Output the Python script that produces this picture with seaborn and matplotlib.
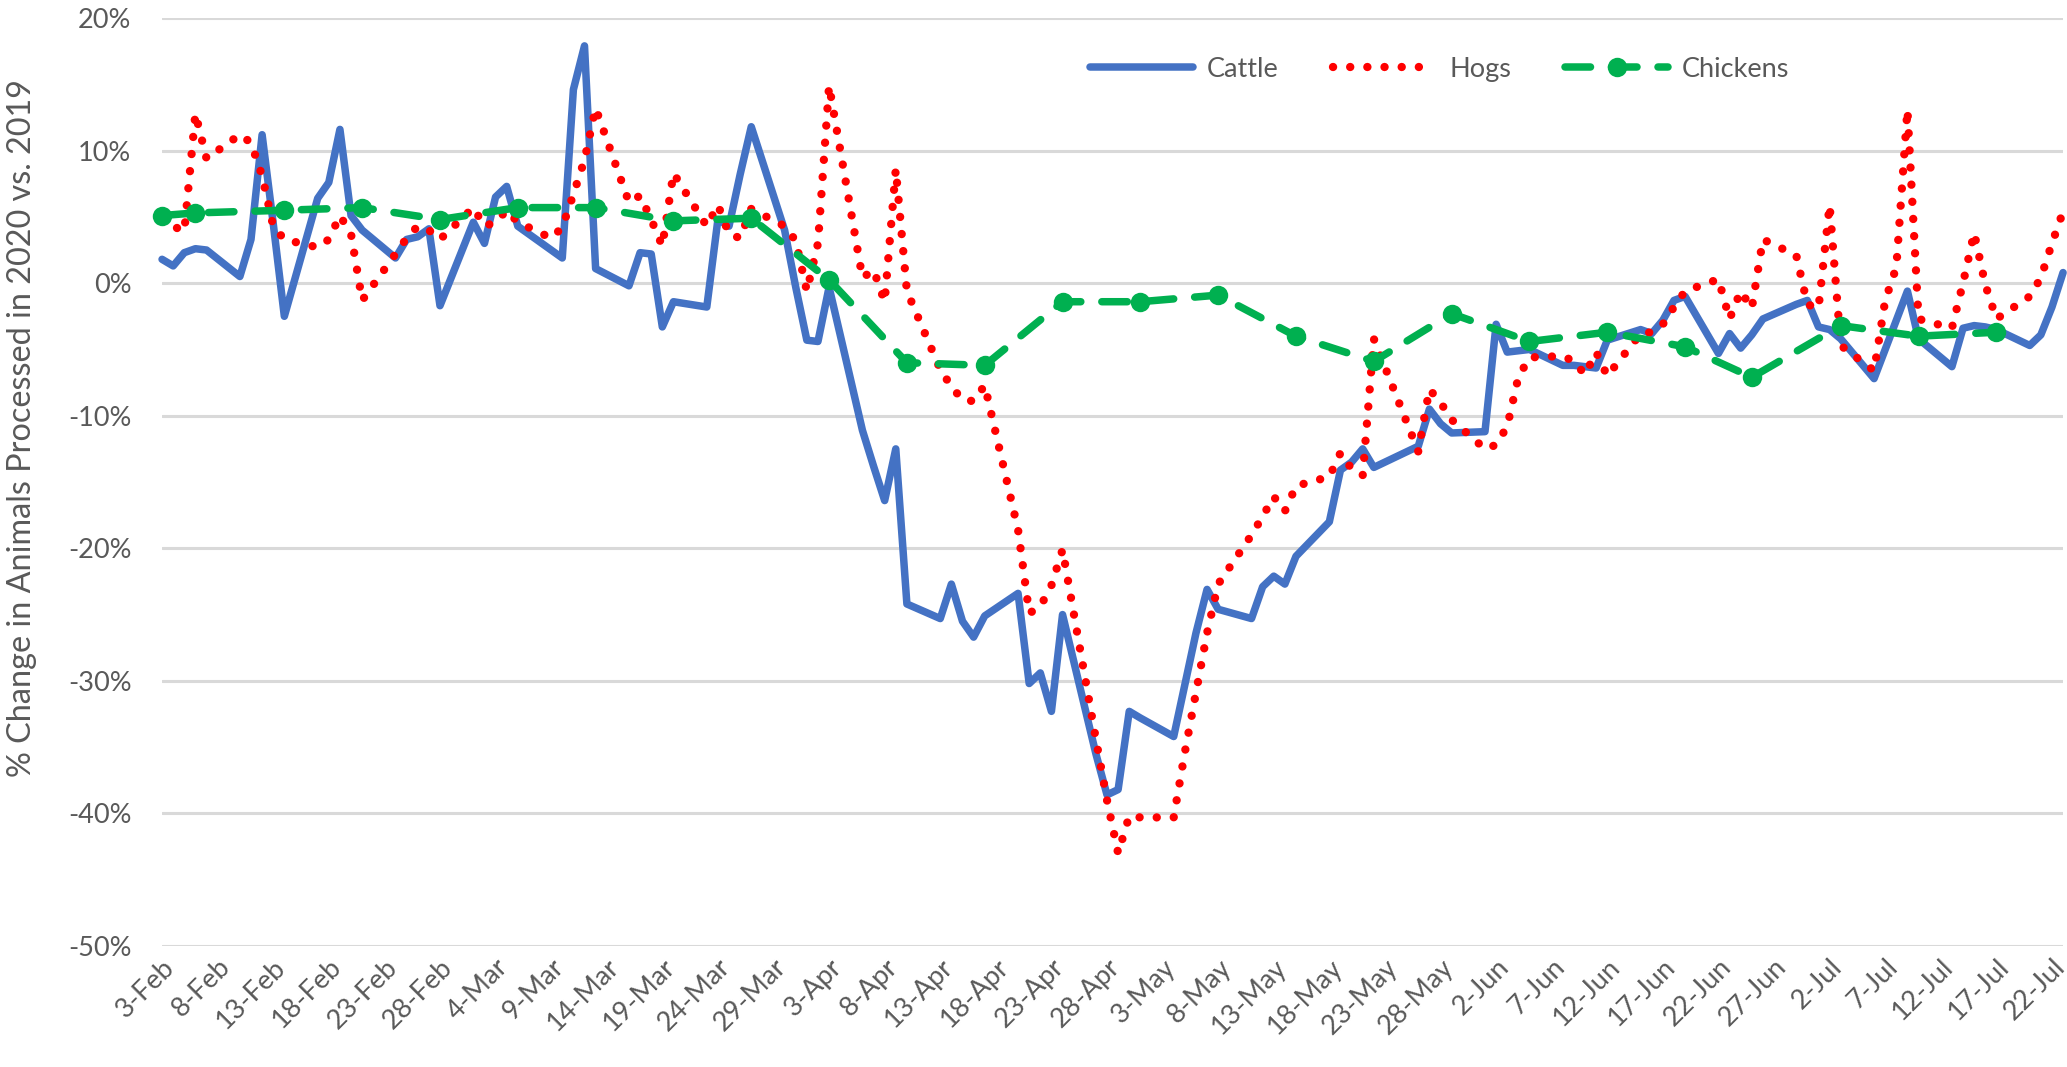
import numpy as np
import pandas as pd
import matplotlib
matplotlib.use("Agg")
import matplotlib.pyplot as plt
import matplotlib.dates as mdates
from matplotlib.lines import Line2D
import seaborn as sns

# ---------------- data ----------------
START = "2020-02-03"
END = "2020-07-23"
HOLIDAYS = ["2020-05-25"]          # no processing reported (Memorial Day)

# % change vs 2019, one value per weekday (Mon..Fri), weeks starting 3-Feb
cattle = [
    1.8, 1.3, 2.3, 2.6, 2.5,
    0.5, 3.3, 11.2, 4.5, -2.5,
    6.4, 7.6, 11.6, 5.1, 4.0,
    1.9, 3.3, 3.5, 4.1, -1.7,
    4.6, 3.0, 6.5, 7.3, 4.3,
    2.5, 1.9, 14.6, 17.9, 1.1,
    -0.2, 2.3, 2.2, -3.3, -1.4,
    -1.8, 4.8, 4.3, 8.2, 11.8,
    4.0, -0.3, -4.3, -4.4, -0.3,
    -11.1, -13.8, -16.4, -12.5, -24.2,
    -25.3, -22.7, -25.5, -26.7, -25.1,
    -23.4, -30.2, -29.4, -32.3, -25.0,
    -35.5, -38.6, -38.2, -32.3, -32.8,
    -34.2, -30.3, -26.4, -23.1, -24.6,
    -25.3, -22.9, -22.1, -22.7, -20.6,
    -18.0, -14.1, -13.5, -12.5, -13.9,
    -12.3, -9.5, -10.6, -11.3,
    -11.2, -3.1, -5.2, -5.1, -5.0,
    -6.2, -6.2, -6.3, -6.4, -4.3,
    -3.5, -3.8, -2.8, -1.3, -1.0,
    -5.3, -3.8, -4.9, -3.9, -2.7,
    -1.6, -1.3, -3.3, -3.5, -4.2,
    -7.2, -5.0, -2.8, -0.6, -4.2,
    -6.3, -3.4, -3.2, -3.3, -3.5,
    -4.7, -3.9, -1.8, 0.8,
]

hogs = [
    4.8, 4.3, 3.9, 12.8, 9.4,
    11.2, 10.6, 8.1, 4.3, 3.3,
    2.7, 3.3, 5.1, 3.7, -1.3,
    2.2, 3.4, 4.3, 4.0, 3.3,
    5.7, 4.3, 4.6, 5.5, 4.6,
    3.4, 4.2, 6.7, 9.3, 13.2,
    6.1, 6.6, 4.8, 2.8, 8.3,
    4.3, 5.9, 3.7, 3.4, 5.6,
    4.3, 3.2, -0.6, 3.0, 14.9,
    0.4, 1.0, -1.4, 8.6, -0.6,
    -6.5, -7.8, -8.8, -8.9, -7.7,
    -18.6, -24.9, -24.4, -22.8, -20.1,
    -34.4, -39.0, -43.0, -40.2, -40.3,
    -40.3, -35.4, -30.9, -26.4, -22.7,
    -19.0, -17.6, -16.1, -17.2, -15.3,
    -14.6, -12.8, -14.0, -14.5, -4.2,
    -12.7, -8.0, -9.0, -10.3,
    -12.5, -12.2, -10.8, -7.1, -5.6,
    -5.5, -5.9, -6.9, -5.2, -7.0,
    -3.8, -3.7, -3.1, -1.8, -0.6,
    0.3, -2.7, -0.6, -1.9, 3.3,
    2.1, -1.6, -1.9, 5.9, -4.7,
    -6.6, -1.3, 1.2, 13.1, -2.7,
    -3.4, 0.0, 3.8, -0.1, -2.7,
    -1.0, 0.4, 3.0, 5.4,
]

# weekly chicken figures: days after 3-Feb and % change
chicken_offsets = [0, 3, 11, 18, 25, 32, 39, 46, 53, 60, 67, 74, 81, 88, 95,
                   102, 109, 116, 123, 130, 137, 143, 151, 158, 165]
chickens = [5.1, 5.3, 5.5, 5.7, 4.8, 5.7, 5.7, 4.7, 4.9, 0.25, -6.0, -6.2,
            -1.4, -1.4, -0.9, -4.0, -5.9, -2.3, -4.4, -3.7, -4.8, -7.1,
            -3.2, -4.0, -3.7]

TICK_FIRST, TICK_LAST = "2020-02-03", "2020-07-22"
y_ticks = [20, 10, 0, -10, -20, -30, -40, -50]
y_title = "% Change in Animals Processed in 2020 vs. 2019"
series_names = ["Cattle", "Hogs", "Chickens"]

# ---------------- tables ----------------
days = pd.bdate_range(START, END)
days = days[~days.isin(pd.to_datetime(HOLIDAYS))]
daily = pd.DataFrame({"date": days, "Cattle": cattle, "Hogs": hogs})
weekly = pd.DataFrame({
    "date": pd.Timestamp(START) + pd.to_timedelta(chicken_offsets, unit="D"),
    "Chickens": chickens,
})

# ---------------- style ----------------
sns.set_theme(style="white")
plt.rcParams["font.family"] = ["Lato", "DejaVu Sans"]

BLUE, RED, GREEN = "#4472C4", "#FF0000", "#00B050"
GRID, TEXT = "#D9D9D9", "#595959"
LW_C, LW_H, LW_K = 5.4, 6.0, 5.4
HOG_DOTS = (0, (0.01, 2.05))
CHICK_DASH = (0, (3.4, 2.8))
MS = 14

fig = plt.figure(figsize=(20.67, 10.67), dpi=100)
ax = fig.add_axes([0.0784, 0.1134, 0.9197, 0.8697])

sns.lineplot(data=daily, x="date", y="Cattle", ax=ax, color=BLUE, lw=LW_C,
             estimator=None, sort=False, clip_on=False, solid_joinstyle="round",
             legend=False, zorder=3)
sns.lineplot(data=daily, x="date", y="Hogs", ax=ax, color=RED, lw=LW_H,
             estimator=None, sort=False, clip_on=False, legend=False, zorder=4)
sns.lineplot(data=weekly, x="date", y="Chickens", ax=ax, color=GREEN, lw=LW_K,
             marker="o", markersize=MS, markeredgewidth=0,
             estimator=None, sort=False, clip_on=False, legend=False, zorder=5)

cattle_line, hog_line, chicken_line = ax.lines[-3:]
hog_line.set_linestyle(HOG_DOTS)
hog_line.set_dash_capstyle("round")
chicken_line.set_linestyle(CHICK_DASH)
chicken_line.set_dash_capstyle("round")

# axes
ax.set_ylim(-50, 20)
ax.set_yticks(y_ticks)
ax.set_yticklabels([f"{v:d}%" for v in y_ticks])
ax.set_xlim(mdates.date2num(pd.Timestamp(START)), mdates.date2num(pd.Timestamp(END)))
ticks = pd.date_range(TICK_FIRST, TICK_LAST, freq="5D")
ax.set_xticks(mdates.date2num(ticks.to_pydatetime()))
ax.set_xticklabels([f"{t.day}-{t:%b}" for t in ticks])

ax.yaxis.grid(True, color=GRID, lw=2.2)
ax.xaxis.grid(False)
ax.set_axisbelow(True)
for s in ax.spines.values():
    s.set_visible(False)

ax.tick_params(axis="both", length=0, labelsize=19.5, labelcolor=TEXT)
ax.tick_params(axis="y", pad=22)
ax.tick_params(axis="x", pad=6)
for lab in ax.get_xticklabels():
    lab.set_rotation(45)
    lab.set_ha("right")
    lab.set_va("top")
    lab.set_rotation_mode("anchor")

ax.set_xlabel("")
ax.set_ylabel(y_title, fontsize=23.3, color=TEXT)
ax.yaxis.set_label_coords(-0.066, 0.558)

# legend
handles = [
    Line2D([], [], color=BLUE, lw=LW_C),
    Line2D([], [], color=RED, lw=LW_H, linestyle=HOG_DOTS, dash_capstyle="round"),
    Line2D([], [], color=GREEN, lw=LW_K, linestyle=CHICK_DASH, dash_capstyle="round",
           marker="o", markersize=MS, markeredgewidth=0),
]
ax.legend(handles, series_names, ncol=3, frameon=False, loc="center",
          bbox_to_anchor=(0.672, 0.945), handlelength=3.8, handletextpad=0.5,
          columnspacing=2.0, fontsize=19.5, labelcolor=TEXT)

fig.savefig("out.png", dpi=100)
